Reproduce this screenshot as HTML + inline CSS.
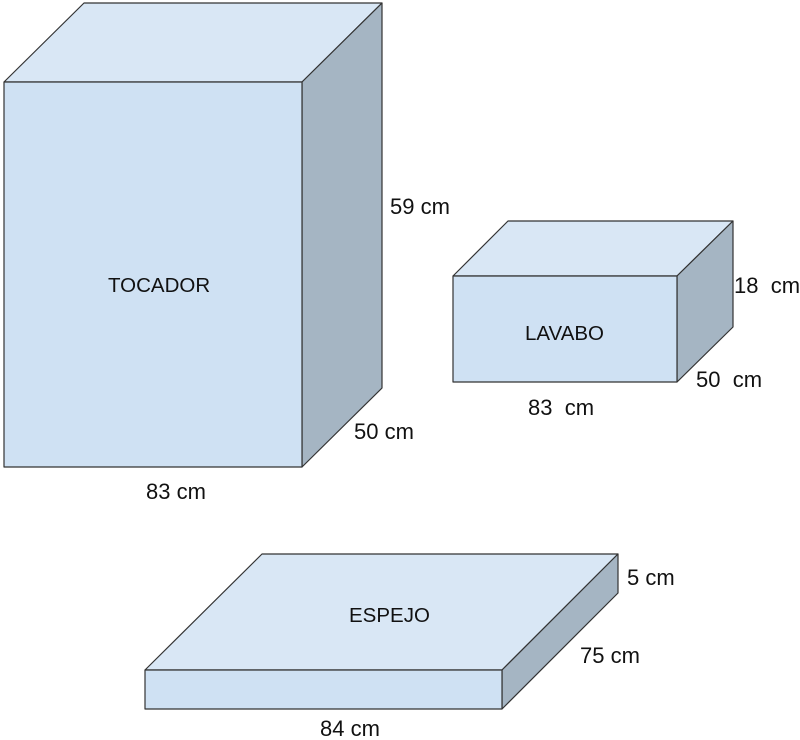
<!DOCTYPE html>
<html><head><meta charset="utf-8"><style>
html,body{margin:0;padding:0;background:#fff;}
svg{display:block;}
text{font-family:"Liberation Sans",Arial,sans-serif;font-size:22px;fill:#111;}
text.n{font-size:20.5px;}
</style></head><body>
<svg width="800" height="740" viewBox="0 0 800 740" xmlns="http://www.w3.org/2000/svg">
<g stroke="#333" stroke-width="1.2" stroke-linejoin="round">
<polygon points="4,82 84,3 382,3 302,82" fill="#d9e7f5"/>
<polygon points="302,82 382,3 382,388 302,467" fill="#a5b5c3"/>
<rect x="4" y="82" width="298" height="385" fill="#cfe1f3"/>
<polygon points="453,276 508,221 733,221 677,276" fill="#d9e7f5"/>
<polygon points="677,276 733,221 733,327 677,382" fill="#a5b5c3"/>
<rect x="453" y="276" width="224" height="106" fill="#cfe1f3"/>
<polygon points="145,670 262,554 618,554 502,670" fill="#d9e7f5"/>
<polygon points="502,670 618,554 618,593 502,709" fill="#a5b5c3"/>
<rect x="145" y="670" width="357" height="39" fill="#cfe1f3"/>
</g>
<text class="n" x="108" y="292">TOCADOR</text>
<text x="390" y="214">59 cm</text>
<text x="354" y="439">50 cm</text>
<text x="146" y="499">83 cm</text>
<text class="n" x="525" y="340">LAVABO</text>
<text x="734" y="293">18&#160; cm</text>
<text x="696" y="387">50&#160; cm</text>
<text x="528" y="415">83&#160; cm</text>
<text class="n" x="349" y="622">ESPEJO</text>
<text x="627" y="585">5 cm</text>
<text x="580" y="663">75 cm</text>
<text x="320" y="736">84 cm</text>
</svg>
</body></html>
